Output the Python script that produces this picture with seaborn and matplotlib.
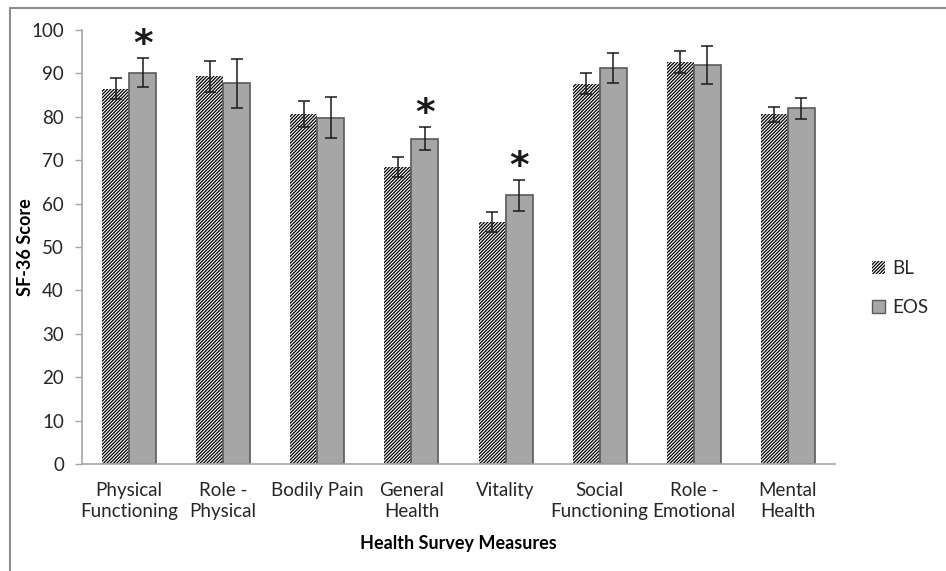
import matplotlib
matplotlib.use("Agg")
import matplotlib.pyplot as plt
from matplotlib.lines import Line2D
from matplotlib.patches import Patch
import seaborn as sns
import pandas as pd
import numpy as np

# SF-36 subscale means and standard errors at baseline (BL) and end of study (EOS)
measures = ["Physical\nFunctioning", "Role -\nPhysical", "Bodily Pain", "General\nHealth",
            "Vitality", "Social\nFunctioning", "Role -\nEmotional", "Mental\nHealth"]
bl_mean = [86.5, 89.3, 80.6, 68.5, 55.8, 87.6, 92.6, 80.6]
bl_err = [2.4, 3.5, 3.0, 2.3, 2.3, 2.4, 2.5, 1.7]
eos_mean = [90.2, 87.7, 79.8, 75.0, 61.9, 91.3, 91.9, 82.0]
eos_err = [3.3, 5.7, 4.7, 2.6, 3.5, 3.5, 4.4, 2.4]
significant = [True, False, False, True, True, False, False, False]
groups = ["BL", "EOS"]

sns.set_theme(style="white")
plt.rcParams["font.family"] = ["Lato", "DejaVu Sans"]
plt.rcParams["hatch.linewidth"] = 0.9

HATCH = "//////////"
FS = 13.5

df = pd.DataFrame({
    "measure": measures * 2,
    "group": [groups[0]] * len(measures) + [groups[1]] * len(measures),
    "score": bl_mean + eos_mean,
    "err": bl_err + eos_err,
})

fig = plt.figure(figsize=(9.46, 5.71), dpi=100)
ax = fig.add_axes([82 / 946, 1 - 464 / 571, (835 - 82) / 946, (464 - 30) / 571])

fill = {"BL": "white", "EOS": "#A6A6A6"}
sns.barplot(data=df, x="measure", y="score", hue="group", hue_order=groups,
            order=measures, palette=fill, width=0.574, errorbar=None,
            saturation=1, legend=False, ax=ax)

n = len(measures)
bars = list(ax.patches)
bl_bars, eos_bars = bars[:n], bars[n:]
for b in bl_bars:
    b.set_hatch(HATCH)
    b.set_edgecolor("black")
    b.set_linewidth(0)
for b in eos_bars:
    b.set_edgecolor("#5a5a5a")
    b.set_linewidth(1.2)

# error bars at the bar centres
for bar_set, means, errs in ((bl_bars, bl_mean, bl_err), (eos_bars, eos_mean, eos_err)):
    xs = [b.get_x() + b.get_width() / 2 for b in bar_set]
    ax.errorbar(xs, means, yerr=errs, fmt="none", ecolor="#1a1a1a",
                elinewidth=1.1, capsize=4, capthick=1.1, zorder=5)

# significance markers above EOS bars
for b, m, e, sig in zip(eos_bars, eos_mean, eos_err, significant):
    if sig:
        ax.text(b.get_x() + b.get_width() / 2, m + e + 3.0, "*", ha="center",
                va="center", fontsize=27, color="#1a1a1a", fontweight="bold",
                family=["DejaVu Sans"])

ax.set_ylim(0, 100)
ax.set_xlim(-0.5, n - 0.5)
ax.set_yticks(np.arange(0, 101, 10))
ax.tick_params(axis="y", length=5, width=1, color="#a6a6a6", left=True, pad=8,
               labelsize=FS, labelcolor="#262626")
ax.tick_params(axis="x", length=0, pad=13, labelsize=FS, labelcolor="#262626")
for lab in ax.get_xticklabels():
    lab.set_linespacing(1.25)
for s in ("top", "right"):
    ax.spines[s].set_visible(False)
for s in ("left", "bottom"):
    ax.spines[s].set_color("#a6a6a6")
    ax.spines[s].set_linewidth(1.2)
ax.grid(False)

ax.set_xlabel("Health Survey Measures", fontsize=13, fontweight="bold", color="black")
ax.set_ylabel("SF-36 Score", fontsize=13, fontweight="bold", color="black")
ax.xaxis.set_label_coords(0.5, (464 - 543) / 434, transform=ax.transAxes)
ax.yaxis.set_label_coords((26 - 82) / 753, 0.5, transform=ax.transAxes)
ax.xaxis.label.set_va("center")
ax.yaxis.label.set_va("center")

handles = [Patch(facecolor="white", edgecolor="black", hatch=HATCH, linewidth=0, label="BL"),
           Patch(facecolor="#A6A6A6", edgecolor="#5a5a5a", linewidth=1.0, label="EOS")]
fig.legend(handles=handles, loc="center left", bbox_to_anchor=(855 / 946, 1 - 288 / 571),
           frameon=False, handlelength=0.7, handleheight=0.7, handletextpad=0.4,
           labelspacing=1.2, fontsize=FS)

# outer frame (left and top edges)
fig.add_artist(Line2D([9.5 / 946, 9.5 / 946], [0, 1 - 7.5 / 571], color="#8c8c8c",
                      linewidth=1.5, transform=fig.transFigure))
fig.add_artist(Line2D([9.5 / 946, 1], [1 - 7.5 / 571, 1 - 7.5 / 571], color="#8c8c8c",
                      linewidth=1.5, transform=fig.transFigure))

fig.savefig("out.png", dpi=100, facecolor="white")
